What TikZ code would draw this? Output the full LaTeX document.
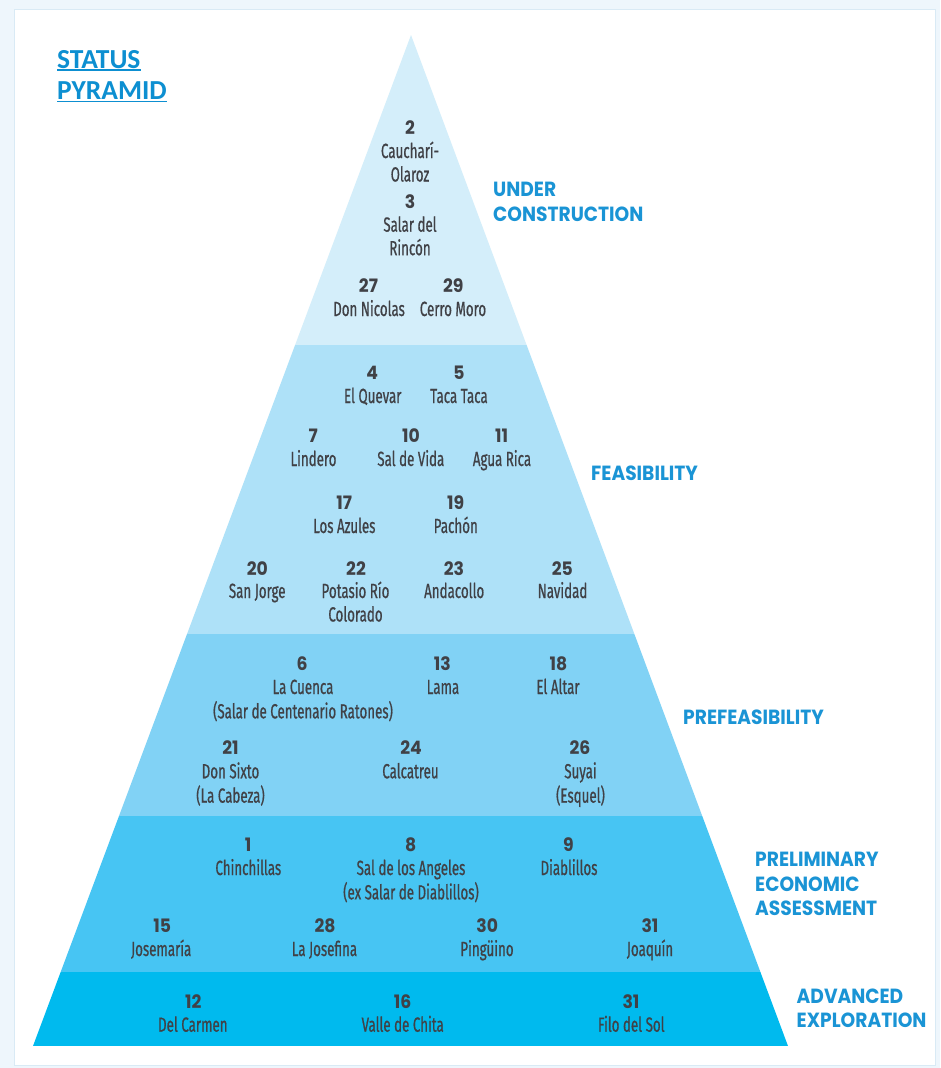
\documentclass[tikz,border=0pt]{standalone}
\usepackage{fontspec}
\newfontfamily\namef[FakeStretch=0.65,FakeBold=0.7]{Fira Sans}
\newfontfamily\numf[FakeStretch=0.93]{Poppins}
\newfontfamily\labf[FakeStretch=0.91]{Poppins}
\newfontfamily\titf{Carlito}
\definecolor{bgc}{HTML}{EEF6FC}
\definecolor{framec}{HTML}{D9EAF5}
\definecolor{bA}{HTML}{D4EEFA}
\definecolor{bB}{HTML}{AEE1F8}
\definecolor{bC}{HTML}{81D2F5}
\definecolor{bD}{HTML}{47C5F3}
\definecolor{bE}{HTML}{00BAEE}
\definecolor{txt}{HTML}{404146}
\definecolor{labc}{HTML}{1A94D5}
\definecolor{titc}{HTML}{0D8FD1}
\newcommand\mlines[1]{\begin{tabular}[t]{@{}c@{}}#1\end{tabular}}
\newcommand\llines[1]{\begin{tabular}[t]{@{}l@{}}#1\end{tabular}}
\begin{document}
\begin{tikzpicture}[x=1pt,y=-1pt,
  num/.style={anchor=base,inner sep=0pt,text=txt,font=\numf\bfseries\fontsize{18.5}{22}\selectfont},
  nm/.style={anchor=base,inner sep=0pt,text=txt,font=\namef\fontsize{20.5}{23.5}\selectfont},
  lab/.style={anchor=base west,inner sep=0pt,text=labc,font=\labf\bfseries\fontsize{20.5}{24.5}\selectfont},
  tit/.style={anchor=base west,inner sep=0pt,text=titc,font=\titf\bfseries\fontsize{27.5}{30}\selectfont},
  uline/.style={draw=titc,line width=1.8pt}]
\useasboundingbox (0,0) rectangle (940,1068);
\fill[bgc] (0,0) rectangle (940,1068);
\filldraw[fill=white,draw=framec,line width=0.8pt] (14,9) rectangle (935,1065);
% pyramid
\coordinate (apex) at (411,35);
\coordinate (bl) at (33,1046);
\coordinate (br) at (788,1046);
\begin{scope}
\clip (apex) -- (bl) -- (br) -- cycle;
\fill[bA] (0,0) rectangle (940,345);
\fill[bB] (0,345) rectangle (940,634);
\fill[bC] (0,634) rectangle (940,816);
\fill[bD] (0,816) rectangle (940,972);
\fill[bE] (0,972) rectangle (940,1046);
\end{scope}
% title
\node[tit] (ts) at (57,68.3) {STATUS};
\node[tit] (tp) at (57,99.5) {PYRAMID};
\draw[uline] ([yshift=-2pt]ts.base west) -- ([yshift=-2pt]ts.base east);
\draw[uline] ([yshift=-2pt]tp.base west) -- ([yshift=-2pt]tp.base east);
% under construction
\node[num] (n2) at (410,134) {2};
\node[nm] (t2) at (410,158) {\mlines{Caucharí-\\Olaroz}};
\node[num] (n3) at (410,208) {3};
\node[nm] (t3) at (410,231.7) {\mlines{Salar del\\Rincón}};
\node[num] (n27) at (368.5,292.7) {27};
\node[nm] (t27) at (369,316) {Don Nicolas};
\node[num] (n29) at (453.3,292.7) {29};
\node[nm] (t29) at (453,316) {Cerro Moro};
% feasibility
\node[num] (n4) at (372.3,379) {4};
\node[nm] (t4) at (372.7,403) {El Quevar};
\node[num] (n5) at (459,379) {5};
\node[nm] (t5) at (459,403) {Taca Taca};
\node[num] (n7) at (313.3,442.7) {7};
\node[nm] (t7) at (313.5,466) {Lindero};
\node[num] (n10) at (411,442.7) {10};
\node[nm] (t10) at (410.8,466) {Sal de Vida};
\node[num] (n11) at (501.7,442.7) {11};
\node[nm] (t11) at (502,466) {Agua Rica};
\node[num] (n17) at (344.3,509) {17};
\node[nm] (t17) at (344.3,533) {Los Azules};
\node[num] (n19) at (455.7,509) {19};
\node[nm] (t19) at (455.8,533) {Pachón};
\node[num] (n20) at (257.3,575) {20};
\node[nm] (t20) at (257.2,598) {San Jorge};
\node[num] (n22) at (356,575) {22};
\node[nm] (t22) at (355.5,598) {\mlines{Potasio Río\\Colorado}};
\node[num] (n23) at (454,575) {23};
\node[nm] (t23) at (454.2,598) {Andacollo};
\node[num] (n25) at (562.3,575) {25};
\node[nm] (t25) at (562.5,598) {Navidad};
% prefeasibility
\node[num] (n6) at (302,670) {6};
\node[nm] (t6) at (303,694) {\mlines{La Cuenca\\(Salar de Centenario Ratones)}};
\node[num] (n13) at (442.4,670) {13};
\node[nm] (t13) at (443,694) {Lama};
\node[num] (n18) at (558.5,670) {18};
\node[nm] (t18) at (558,694) {El Altar};
\node[num] (n21) at (230.4,754.3) {21};
\node[nm] (t21) at (230.5,778.3) {\mlines{Don Sixto\\(La Cabeza)}};
\node[num] (n24) at (411,754.3) {24};
\node[nm] (t24) at (410.5,778.3) {Calcatreu};
\node[num] (n26) at (580,754.3) {26};
\node[nm] (t26) at (580.5,778.3) {\mlines{Suyai\\(Esquel)}};
% PEA
\node[num] (n1) at (248,851.7) {1};
\node[nm] (t1) at (248.3,875) {Chinchillas};
\node[num] (n8) at (410.7,851.7) {8};
\node[nm] (t8) at (411,875) {\mlines{Sal de los Angeles\\(ex Salar de Diablillos)}};
\node[num] (n9) at (568.3,851.7) {9};
\node[nm] (t9) at (569,875) {Diablillos};
\node[num] (n15) at (162.3,932.7) {15};
\node[nm] (t15) at (161.2,956) {Josemaría};
\node[num] (n28) at (325,932.7) {28};
\node[nm] (t28) at (324.5,956) {La Josefina};
\node[num] (n30) at (487.3,932.7) {30};
\node[nm] (t30) at (487,956) {Pingüino};
\node[num] (n31a) at (650,932.7) {31};
\node[nm] (t31a) at (650,956) {Joaquín};
% advanced exploration
\node[num] (n12) at (193.3,1008.3) {12};
\node[nm] (t12) at (192.8,1031.7) {Del Carmen};
\node[num] (n16) at (402.7,1008.3) {16};
\node[nm] (t16) at (402.7,1031.7) {Valle de Chita};
\node[num] (n31b) at (631,1008.3) {31};
\node[nm] (t31b) at (631.3,1031.7) {Filo del Sol};
% stage labels
\node[lab] (lUC) at (493,196.5) {\llines{UNDER\\CONSTRUCTION}};
\node[lab] (lF) at (591,480.7) {FEASIBILITY};
\node[lab] (lPF) at (683,724.3) {PREFEASIBILITY};
\node[lab] (lPEA) at (755,866.7) {\llines{PRELIMINARY\\ECONOMIC\\ASSESSMENT}};
\node[lab] (lAE) at (796.5,1003.3) {\llines{ADVANCED\\EXPLORATION}};
\end{tikzpicture}
\end{document}
